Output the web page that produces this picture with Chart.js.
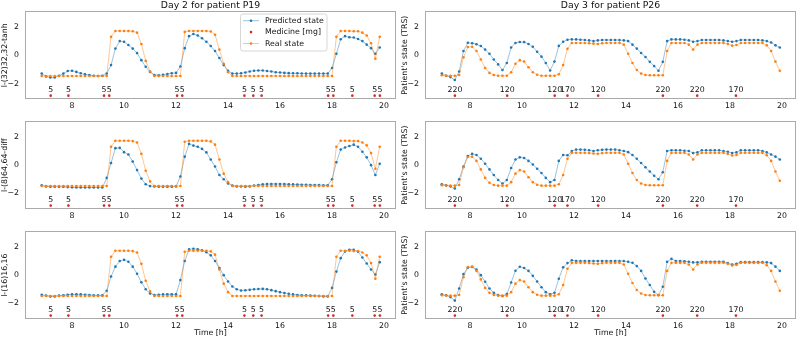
<!DOCTYPE html>
<html lang="en">
<head>
    <meta charset="UTF-8">
    <title>Predicted vs real state</title>
    <script src="https://cdn.jsdelivr.net/npm/chart.js"></script>
    <style>
        html, body { margin: 0; background: #fff; }
        #wrap { position: relative; width: 800px; height: 340px; }
        canvas { position: absolute; }
    </style>
</head>
<body>
<div id="wrap">
    <canvas id="p0" width="400" height="110" style="left:0;top:0"></canvas>
    <canvas id="p1" width="400" height="110" style="left:400px;top:0"></canvas>
    <canvas id="p2" width="400" height="110" style="left:0;top:110px"></canvas>
    <canvas id="p3" width="400" height="110" style="left:400px;top:110px"></canvas>
    <canvas id="p4" width="400" height="120" style="left:0;top:220px"></canvas>
    <canvas id="p5" width="400" height="120" style="left:400px;top:220px"></canvas>
</div>
<script>
// sampling: one value every 10 minutes
const stepH = 10 / 60;
const leftStart = 6 + 50 / 60;   // 6:50, Day 2 / P19
const rightStart = 6 + 55 / 60;  // 6:55, Day 3 / P26

const xTicks = [8, 10, 12, 14, 16, 18, 20];
const yTicks = [-2, 0, 2];

const leftTitle = 'Day 2 for patient P19';
const rightTitle = 'Day 3 for patient P26';
const modelNames = ['l-(32)32,32-tanh', 'l-(8)64,64-diff', 'l-(16)16,16'];

// Day 2, patient P19
const leftReal = [
    -1.47,-1.47,-1.47,-1.47,-1.47,-1.47,-1.47,-1.47,-1.47,-1.47,
    -1.47,-1.47,-1.47,-1.47,-1.47,-1.47,1.3,1.72,1.72,1.72,
    1.72,1.7,1.6,0.8,-0.4,-1.15,-1.47,-1.47,-1.47,-1.47,
    -1.47,-1.47,-1.47,1.65,1.72,1.72,1.72,1.72,1.72,1.68,
    1.45,0.4,-0.6,-1.2,-1.47,-1.47,-1.47,-1.47,-1.47,-1.47,
    -1.47,-1.47,-1.47,-1.47,-1.47,-1.47,-1.47,-1.47,-1.47,-1.47,
    -1.47,-1.47,-1.47,-1.47,-1.47,-1.47,-1.47,-1.47,1.3,1.72,
    1.72,1.72,1.7,1.7,1.6,1.4,0.85,-0.25,1.3
];
const leftPred1 = [
    -1.3,-1.5,-1.58,-1.58,-1.45,-1.3,-1.12,-1.1,-1.18,-1.28,
    -1.35,-1.4,-1.45,-1.47,-1.45,-1.3,-0.7,0.47,1.0,0.95,
    0.72,0.47,0.15,-0.35,-0.82,-1.18,-1.4,-1.42,-1.38,-1.33,
    -1.28,-1.25,-0.8,0.5,1.35,1.5,1.4,1.2,0.95,0.65,
    0.3,-0.2,-0.7,-1.1,-1.3,-1.3,-1.28,-1.22,-1.15,-1.1,
    -1.08,-1.08,-1.12,-1.15,-1.2,-1.22,-1.25,-1.27,-1.28,-1.28,
    -1.29,-1.3,-1.3,-1.3,-1.3,-1.3,-1.3,-0.9,0.1,1.13,
    1.35,1.27,1.25,1.15,1.0,0.75,0.5,0.1,0.55
];
const leftPred2 = [
    -1.42,-1.5,-1.52,-1.52,-1.53,-1.53,-1.55,-1.57,-1.58,-1.58,
    -1.58,-1.58,-1.58,-1.58,-1.58,-0.9,0.15,1.2,1.22,0.92,
    0.75,0.25,-0.35,-0.95,-1.35,-1.48,-1.5,-1.52,-1.52,-1.52,
    -1.52,-1.5,-0.8,0.6,1.5,1.38,1.3,1.15,0.9,0.4,
    -0.1,-0.7,-1.0,-1.3,-1.45,-1.5,-1.5,-1.52,-1.5,-1.45,
    -1.4,-1.36,-1.34,-1.33,-1.33,-1.33,-1.34,-1.35,-1.36,-1.37,
    -1.38,-1.39,-1.4,-1.4,-1.41,-1.42,-1.42,-1.0,0.2,1.1,
    1.25,1.35,1.45,1.3,0.95,0.55,0.0,-0.7,0.1
];
const leftPred3 = [
    -1.38,-1.45,-1.5,-1.5,-1.45,-1.42,-1.38,-1.35,-1.35,-1.36,
    -1.38,-1.4,-1.42,-1.43,-1.42,-1.1,-0.1,0.6,1.0,1.08,
    0.95,0.6,0.1,-0.5,-1.0,-1.3,-1.4,-1.38,-1.36,-1.35,
    -1.35,-1.35,-0.35,1.0,1.82,1.87,1.82,1.75,1.62,1.4,
    1.0,0.5,0.0,-0.45,-0.8,-1.0,-1.08,-1.07,-1.04,-1.0,
    -0.98,-0.97,-1.0,-1.06,-1.13,-1.2,-1.27,-1.32,-1.36,-1.4,
    -1.42,-1.43,-1.45,-1.46,-1.48,-1.5,-1.5,-0.9,0.25,1.2,
    1.68,1.8,1.8,1.65,1.25,0.82,0.4,0.05,0.92
];
const leftMedTimes = [7.18, 7.86, 9.23, 9.43, 12.04, 12.24, 14.63, 14.97, 15.29, 17.85, 18.05, 18.78, 19.64, 19.84];
const leftMedDoses = [5, 5, 5, 5, 5, 5, 5, 5, 5, 5, 5, 5, 5, 5];

// Day 3, patient P26
const rightReal = [
    -1.42,-1.45,-1.45,-1.45,-1.4,-0.15,0.58,0.6,0.3,-0.3,
    -0.9,-1.25,-1.4,-1.45,-1.45,-1.45,-1.2,-0.6,-0.35,-0.45,
    -0.85,-1.2,-1.38,-1.45,-1.45,-1.45,-1.45,-1.35,-0.7,0.45,
    0.87,0.87,0.87,0.87,0.85,0.82,0.8,0.85,0.87,0.87,
    0.87,0.87,0.75,0.1,-0.55,-1.05,-1.3,-1.4,-1.42,-1.42,
    -1.42,-1.42,0.3,0.87,0.87,0.87,0.87,0.75,0.4,0.75,
    0.87,0.87,0.87,0.87,0.87,0.87,0.8,0.68,0.72,0.87,
    0.87,0.87,0.87,0.87,0.87,0.7,0.3,-0.45,-1.1
];
const rightPred1 = [
    -1.3,-1.45,-1.55,-1.75,-1.15,0.3,0.88,0.85,0.78,0.65,
    0.4,0.1,-0.3,-0.65,-1.05,-0.55,0.55,0.87,0.94,0.93,
    0.8,0.6,0.25,-0.1,-0.55,-1.08,-0.45,0.66,0.95,1.1,
    1.12,1.12,1.1,1.08,1.05,1.0,1.05,1.08,1.08,1.08,
    1.08,1.07,1.05,1.0,0.75,0.47,0.16,-0.12,-0.47,-0.77,
    -1.1,-0.47,1.0,1.12,1.12,1.12,1.1,1.05,0.95,1.0,
    1.08,1.08,1.08,1.08,1.08,1.05,1.0,0.95,1.0,1.08,
    1.08,1.08,1.08,1.08,1.05,1.0,0.9,0.7,0.55
];
const rightPred2 = [
    -1.35,-1.42,-1.5,-1.65,-1.0,-0.1,0.65,0.8,0.72,0.45,
    0.1,-0.3,-0.7,-1.05,-1.3,-1.05,-0.2,0.4,0.55,0.5,
    0.3,0.05,-0.25,-0.55,-0.9,-1.2,-1.05,0.3,0.72,0.7,
    1.0,1.1,1.1,1.08,1.05,1.0,1.05,1.08,1.1,1.1,
    1.1,1.05,1.0,0.92,0.72,0.45,0.15,-0.15,-0.45,-0.75,
    -1.0,-0.5,1.0,1.05,1.05,1.05,1.02,1.0,0.85,0.9,
    1.05,1.05,1.05,1.05,1.05,1.0,0.95,0.85,0.9,1.05,
    1.05,1.05,1.05,1.05,1.0,0.9,0.75,0.6,0.4
];
const rightPred3 = [
    -1.35,-1.42,-1.55,-1.8,-0.94,0.07,0.52,0.58,0.4,0.0,
    -0.47,-0.94,-1.25,-1.41,-1.48,-1.34,-0.52,0.31,0.59,0.5,
    0.3,-0.05,-0.45,-0.85,-1.2,-1.35,-1.25,-0.25,0.55,0.85,
    1.05,1.0,1.0,1.0,1.0,1.0,1.0,1.0,1.0,1.0,
    1.0,1.0,1.0,0.95,0.87,0.64,0.3,-0.24,-0.7,-1.18,
    -1.41,-0.82,0.94,1.15,1.0,1.0,0.98,0.95,0.9,0.9,
    0.95,0.95,0.95,0.95,0.95,0.95,0.85,0.75,0.8,0.92,
    0.92,0.92,0.92,0.92,0.92,0.9,0.85,0.6,0.3
];
const rightMedTimes = [7.42, 9.43, 11.26, 11.75, 12.93, 15.42, 16.74, 18.23];
const rightMedDoses = [220, 120, 120, 170, 120, 220, 220, 170];

const FONT = 'DejaVu Sans';
const BLUE = '#1f77b4', ORANGE = '#ff7f0e', RED = '#d62728';
const LINE_BLUE = 'rgba(31,119,180,0.75)', LINE_ORANGE = 'rgba(255,127,14,0.75)';
const MED_Y = -2.86;     // where the dose markers sit
const MED_TEXT_Y = -2.46;

function series(start, values) {
    return values.map((v, i) => ({ x: start + i * stepH, y: v }));
}

const framePlugin = {
    id: 'frame',
    afterDatasetsDraw(chart) {
        const a = chart.chartArea, ctx = chart.ctx;
        ctx.save();
        ctx.strokeStyle = '#aaaaaa';
        ctx.lineWidth = 1;
        ctx.strokeRect(Math.round(a.left) + 0.5, Math.round(a.top) + 0.5,
            Math.round(a.right - a.left) - 1, Math.round(a.bottom - a.top) - 1);
        ctx.restore();
    }
};

function doseLabels(times, doses) {
    return {
        id: 'doseLabels',
        afterDatasetsDraw(chart) {
            const ctx = chart.ctx, xs = chart.scales.x, ys = chart.scales.y;
            ctx.save();
            ctx.font = '7.8px "' + FONT + '"';
            ctx.fillStyle = '#111';
            ctx.textAlign = 'center';
            ctx.textBaseline = 'middle';
            times.forEach((t, i) => {
                ctx.fillText(String(doses[i]), xs.getPixelForValue(t), ys.getPixelForValue(MED_TEXT_Y));
            });
            ctx.restore();
        }
    };
}

const legendPlugin = {
    id: 'boxLegend',
    afterDraw(chart) {
        const ctx = chart.ctx;
        const x0 = 240.5, y0 = 14, w = 86.5, h = 37;
        ctx.save();
        ctx.fillStyle = 'rgba(255,255,255,0.85)';
        ctx.strokeStyle = '#cccccc';
        ctx.lineWidth = 0.8;
        ctx.beginPath();
        ctx.roundRect(x0, y0, w, h, 2.5);
        ctx.fill();
        ctx.stroke();
        const items = [
            { label: 'Predicted state', color: BLUE, lineColor: LINE_BLUE },
            { label: 'Medicine [mg]', color: RED, lineColor: null },
            { label: 'Real state', color: ORANGE, lineColor: LINE_ORANGE }
        ];
        ctx.font = '7.8px "' + FONT + '"';
        ctx.textBaseline = 'middle';
        items.forEach((it, i) => {
            const y = y0 + 6.7 + i * 11.4;
            if (it.lineColor) {
                ctx.strokeStyle = it.lineColor;
                ctx.lineWidth = 0.6;
                ctx.beginPath();
                ctx.moveTo(243, y);
                ctx.lineTo(259, y);
                ctx.stroke();
            }
            ctx.fillStyle = it.color;
            ctx.beginPath();
            ctx.arc(251, y, 1.3, 0, Math.PI * 2);
            ctx.fill();
            ctx.fillStyle = '#111';
            ctx.fillText(it.label, 265, y);
        });
        ctx.restore();
    }
};

function makePanel(id, p) {
    const plugins = [framePlugin, doseLabels(p.medTimes, p.medDoses)];
    if (p.legend) plugins.push(legendPlugin);

    new Chart(document.getElementById(id), {
        type: 'line',
        data: {
            datasets: [
                {
                    label: 'Real state',
                    data: series(p.start, p.real),
                    borderColor: LINE_ORANGE, backgroundColor: ORANGE,
                    pointBackgroundColor: ORANGE, pointBorderWidth: 0,
                    borderWidth: 0.6, pointRadius: 1.3, tension: 0, order: 0
                },
                {
                    label: 'Medicine [mg]',
                    data: p.medTimes.map(t => ({ x: t, y: MED_Y })),
                    showLine: false,
                    pointBackgroundColor: RED, pointBorderWidth: 0,
                    pointRadius: 1.3, order: 1
                },
                {
                    label: 'Predicted state',
                    data: series(p.start, p.pred),
                    borderColor: LINE_BLUE, backgroundColor: BLUE,
                    pointBackgroundColor: BLUE, pointBorderWidth: 0,
                    borderWidth: 0.6, pointRadius: 1.3, tension: 0, order: 2
                }
            ]
        },
        options: {
            responsive: false,
            animation: false,
            devicePixelRatio: 1,
            layout: { padding: { top: p.title ? 0 : 11, right: 3, left: 0, bottom: 0 } },
            plugins: {
                legend: { display: false },
                tooltip: { enabled: false },
                title: {
                    display: !!p.title,
                    text: p.title,
                    fullSize: false,
                    padding: 0,
                    color: '#111',
                    font: { family: FONT, size: 9.3, weight: 'normal', lineHeight: 1.2 }
                }
            },
            scales: {
                x: {
                    type: 'linear',
                    min: p.xMin, max: p.xMax,
                    grid: { display: false, drawTicks: false },
                    border: { display: false },
                    ticks: {
                        color: '#111', padding: 2,
                        font: { family: FONT, size: 7.8 },
                        callback: v => String(v)
                    },
                    afterBuildTicks: s => { s.ticks = xTicks.map(v => ({ value: v })); },
                    afterFit: s => { s.height = p.xHeight; },
                    title: {
                        display: p.bottom,
                        text: 'Time [h]',
                        color: '#111',
                        padding: { top: 0, bottom: 2.3 },
                        font: { family: FONT, size: 7.8, lineHeight: 1.2 }
                    }
                },
                y: {
                    min: -3.12, max: 3.12,
                    grid: { display: false, drawTicks: false },
                    border: { display: false },
                    ticks: {
                        color: '#111', padding: 6,
                        font: { family: FONT, size: 7.8 },
                        callback: v => String(v).replace('-', '\u2212')
                    },
                    afterBuildTicks: s => { s.ticks = yTicks.map(v => ({ value: v })); },
                    afterFit: s => { s.width = 25; },
                    title: {
                        display: true,
                        text: p.yLabel,
                        color: '#111',
                        padding: { top: 0.4, bottom: 0 },
                        font: { family: FONT, size: 7.8, lineHeight: 1.2 }
                    }
                }
            }
        },
        plugins: plugins
    });
}

const leftPreds = [leftPred1, leftPred2, leftPred3];
const rightPreds = [rightPred1, rightPred2, rightPred3];

for (let r = 0; r < 3; r++) {
    const bottom = r === 2;
    makePanel('p' + (r * 2), {
        start: leftStart, real: leftReal, pred: leftPreds[r],
        medTimes: leftMedTimes, medDoses: leftMedDoses,
        xMin: 6.19, xMax: 20.46,
        title: r === 0 ? leftTitle : '',
        yLabel: modelNames[r],
        legend: r === 0,
        bottom: bottom,
        xHeight: bottom ? 20.7 : 10.7
    });
    makePanel('p' + (r * 2 + 1), {
        start: rightStart, real: rightReal, pred: rightPreds[r],
        medTimes: rightMedTimes, medDoses: rightMedDoses,
        xMin: 6.27, xMax: 20.54,
        title: r === 0 ? rightTitle : '',
        yLabel: "Patient's state (TRS)",
        legend: false,
        bottom: bottom,
        xHeight: bottom ? 20.7 : 10.7
    });
}
</script>
</body>
</html>
